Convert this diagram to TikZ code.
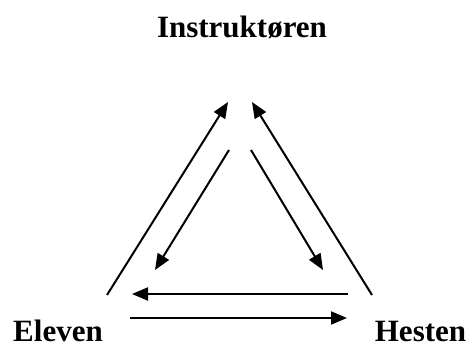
\documentclass[tikz,border=0pt]{standalone}
\usepackage{fontspec}
\setmainfont{Liberation Serif}
\usetikzlibrary{arrows.meta}
\begin{document}
\begin{tikzpicture}[x=1pt,y=-1pt,
  lbl/.style={font=\bfseries\fontsize{31}{36}\selectfont, inner sep=0pt, anchor=base, text depth=0pt},
  conn/.style={line width=2pt, -{Triangle[length=16pt,width=13pt]}}]
\useasboundingbox (0,0) rectangle (467,345);
\node[lbl] (I) at (242,37.5) {Instruktøren};
\node[lbl] (E) at (58,341.5) {Eleven};
\node[lbl] (H) at (420.5,341.5) {Hesten};
\coordinate (lo1) at (107,295);
\coordinate (lo2) at (228,102);
\coordinate (li1) at (229,150);
\coordinate (li2) at (155,270);
\coordinate (ri1) at (251,150);
\coordinate (ri2) at (323,270);
\coordinate (ro1) at (372,295);
\coordinate (ro2) at (252,102);
\coordinate (ht1) at (348,294);
\coordinate (ht2) at (132,294);
\coordinate (hb1) at (130,318);
\coordinate (hb2) at (347,318);
\draw[conn] (lo1) -- (lo2);
\draw[conn] (li1) -- (li2);
\draw[conn] (ri1) -- (ri2);
\draw[conn] (ro1) -- (ro2);
\draw[conn] (ht1) -- (ht2);
\draw[conn] (hb1) -- (hb2);
\end{tikzpicture}
\end{document}
